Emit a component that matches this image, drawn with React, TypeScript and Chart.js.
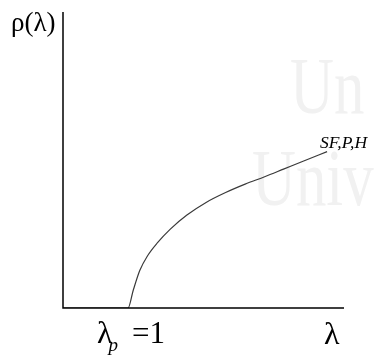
import React, { useEffect, useRef } from "react";
import { Chart, registerables } from "chart.js";

Chart.register(...registerables);

// Order parameter rho as a function of lambda (zero below the threshold lambda_p = 1)
const lambdaValues = [0, 1, 1.08, 1.18, 1.3, 1.45, 1.65, 1.9, 2.2, 2.5, 2.8, 3.1, 3.4, 3.7, 4.06];
const rhoValues = [0, 0, 0.18, 0.38, 0.53, 0.66, 0.8, 0.94, 1.07, 1.17, 1.255, 1.33, 1.41, 1.49, 1.585];

const lambdaP = 1;
const yAxisLabel = "ρ(λ)";
const xAxisLabel = "λ";
const thresholdSymbol = "λ";
const thresholdSub = "p";
const thresholdValue = "=1";
const curveLabel = "SF,P,H";
const watermarkLines = ["Un", "Univ"];

const SERIF = '"Liberation Serif", "DejaVu Serif", serif';

const annotations = {
  id: "annotations",
  beforeDraw(chart: any) {
    const { ctx } = chart;
    ctx.save();
    ctx.fillStyle = "#ffffff";
    ctx.fillRect(0, 0, chart.width, chart.height);
    // faint background lettering
    ctx.fillStyle = "#f1f1f1";
    ctx.font = `80px ${SERIF}`;
    ctx.textBaseline = "alphabetic";
    const wm = [
      { t: watermarkLines[0], x: 290, y: 113 },
      { t: watermarkLines[1], x: 252, y: 205 },
    ];
    for (const w of wm) {
      ctx.save();
      ctx.translate(w.x, w.y);
      ctx.scale(0.76, 1);
      ctx.fillText(w.t, 0, 0);
      ctx.restore();
    }
    ctx.restore();
  },
  afterDatasetsDraw(chart: any) {
    const { ctx, chartArea } = chart;
    const xs = chart.scales.x;
    const ys = chart.scales.y;
    ctx.save();
    // axes
    ctx.strokeStyle = "#000";
    ctx.lineWidth = 1.5;
    ctx.beginPath();
    ctx.moveTo(chartArea.left, chartArea.top);
    ctx.lineTo(chartArea.left, chartArea.bottom);
    ctx.lineTo(chartArea.right, chartArea.bottom);
    ctx.stroke();

    ctx.fillStyle = "#000";
    ctx.textBaseline = "alphabetic";
    ctx.textAlign = "left";

    // y-axis title
    ctx.font = `27px ${SERIF}`;
    ctx.fillText(yAxisLabel, 11, 31);

    // threshold label under the axis
    const px = xs.getPixelForValue(lambdaP);
    ctx.font = `32px ${SERIF}`;
    const lx = px - 31;
    ctx.fillText(thresholdSymbol, lx, 343);
    const wL = ctx.measureText(thresholdSymbol).width;
    ctx.font = `italic 19px ${SERIF}`;
    ctx.fillText(thresholdSub, lx + wL - 4, 351);
    ctx.font = `31px ${SERIF}`;
    ctx.fillText(thresholdValue, lx + 35, 343);

    // x-axis title
    ctx.font = `32px ${SERIF}`;
    ctx.fillText(xAxisLabel, chartArea.right - 20, 344);

    // curve label at the end of the line
    const n = lambdaValues.length - 1;
    const ex = xs.getPixelForValue(lambdaValues[n]);
    const ey = ys.getPixelForValue(rhoValues[n]);
    ctx.font = `italic 17.5px ${SERIF}`;
    ctx.fillText(curveLabel, ex - 7, ey - 4);
    ctx.restore();
  },
};

export default function App() {
  const ref = useRef<HTMLCanvasElement | null>(null);

  useEffect(() => {
    if (!ref.current) return;
    const chart = new Chart(ref.current, {
      type: "line",
      data: {
        datasets: [
          {
            data: lambdaValues.map((x, i) => ({ x, y: rhoValues[i] })),
            borderColor: "#3a3a3a",
            borderWidth: 1.2,
            pointRadius: 0,
            cubicInterpolationMode: "monotone",
            fill: false,
          },
        ],
      },
      options: {
        animation: false,
        responsive: false,
        events: [],
        layout: { padding: { left: 63, right: 30, top: 12, bottom: 52 } },
        plugins: { legend: { display: false }, tooltip: { enabled: false } },
        scales: {
          x: { type: "linear", display: false, min: 0, max: 4.32 },
          y: { type: "linear", display: false, min: 0, max: 3 },
        },
      },
      plugins: [annotations],
    });
    return () => chart.destroy();
  }, []);

  return (
    <div style={{ position: "fixed", left: 0, top: 0, width: 374, height: 360, background: "#fff" }}>
      <canvas ref={ref} width={374} height={360} style={{ display: "block" }} />
    </div>
  );
}
